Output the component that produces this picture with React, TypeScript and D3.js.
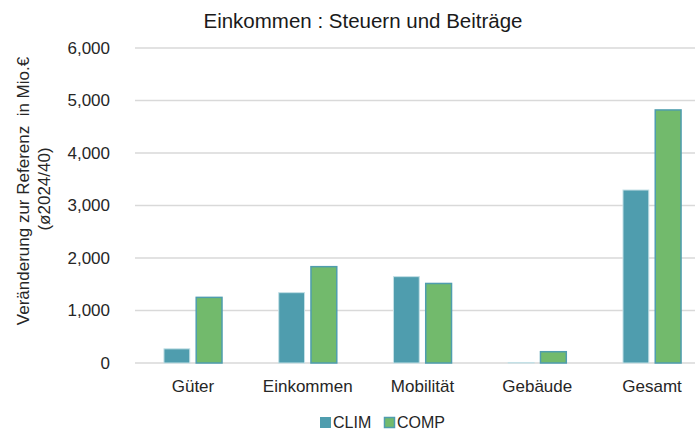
import React from "react";
import * as d3 from "d3";

const categories = ["Güter", "Einkommen", "Mobilität", "Gebäude", "Gesamt"];
const series = ["CLIM", "COMP"];
const climValues = [270, 1340, 1645, 10, 3295];
const compValues = [1250, 1835, 1515, 215, 4820];
const yTicks = [0, 1000, 2000, 3000, 4000, 5000, 6000];

const W = 695;
const H = 430;
const FONT = "'Liberation Sans', Arial, sans-serif";
const colors: Record<string, string> = { CLIM: "#4f9dae", COMP: "#72ba6c" };
const strokes: Record<string, string> = { CLIM: "#c4e0e6", COMP: "#4f9dae" };

export default function App() {
  const x = d3.scaleBand<string>().domain(categories).range([135.6, 709.4]).paddingInner(0).paddingOuter(0);
  const bw = x.bandwidth();
  const xs = d3
    .scaleBand<string>()
    .domain(series)
    .range([bw * 0.247, bw * 0.753])
    .paddingInner(0.2)
    .paddingOuter(0);
  const y = d3.scaleLinear().domain([0, 6000]).range([363, 48]);
  const fmt = d3.format(",");
  const data: Record<string, number[]> = { CLIM: climValues, COMP: compValues };

  return (
    <svg
      width={W}
      height={H}
      style={{ position: "absolute", left: 0, top: 0, background: "#fff" }}
      fontFamily={FONT}
    >
      <rect x={0} y={0} width={W} height={H} fill="#fff" />
      <text x={363} y={28} textAnchor="middle" fontSize={20.5} fill="#1a1a1a">
        Einkommen : Steuern und Beiträge
      </text>
      {yTicks.map((t) => (
        <g key={t}>
          <line x1={135} x2={W} y1={y(t)} y2={y(t)} stroke="#d9d9d9" strokeWidth={1.5} />
          <text x={110} y={y(t)} dy="0.35em" textAnchor="end" fontSize={17} fill="#262626">
            {fmt(t)}
          </text>
        </g>
      ))}
      <text
        transform={`translate(29,191) rotate(-90)`}
        textAnchor="middle"
        fontSize={17}
        fill="#262626"
        style={{ whiteSpace: "pre" }}
      >
        {"Veränderung zur Referenz  in Mio.€"}
      </text>
      <text transform={`translate(50,189) rotate(-90)`} textAnchor="middle" fontSize={17} fill="#262626">
        (ø2024/40)
      </text>
      {categories.map((c, i) => (
        <g key={c} transform={`translate(${x(c)},0)`}>
          {series.map((s) => {
            const v = data[s][i];
            return (
              <rect
                key={s}
                x={xs(s)}
                y={y(v)}
                width={xs.bandwidth()}
                height={y(0) - y(v)}
                fill={colors[s]}
                stroke={strokes[s]}
                strokeWidth={s === "COMP" ? 1.5 : 1}
              />
            );
          })}
          <text x={bw / 2} y={392} textAnchor="middle" fontSize={17} fill="#262626">
            {c}
          </text>
        </g>
      ))}
      <g>
        <rect x={320} y={417} width={11} height={11} fill={colors.CLIM} />
        <text x={333} y={428} fontSize={16} fill="#262626">CLIM</text>
        <rect x={384.5} y={417.5} width={10} height={10} fill={colors.COMP} stroke={strokes.COMP} strokeWidth={1.5} />
        <text x={397} y={428} fontSize={16} fill="#262626">COMP</text>
      </g>
    </svg>
  );
}
